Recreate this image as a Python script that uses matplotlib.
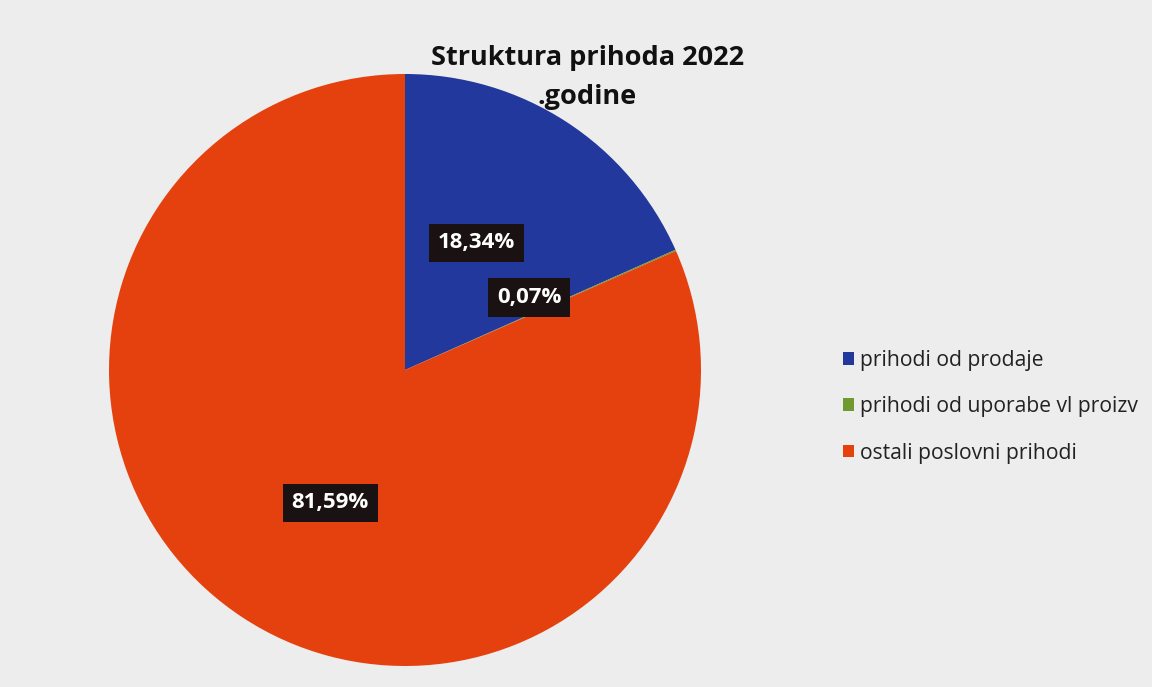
import numpy as np
import matplotlib
matplotlib.use("Agg")
import matplotlib.pyplot as plt
from matplotlib.patches import Patch

plt.rcParams["font.family"] = ["Open Sans", "DejaVu Sans"]

labels = ["prihodi od prodaje", "prihodi od uporabe vl proizv", "ostali poslovni prihodi"]
shares = [18.34, 0.07, 81.59]
pct_text = ["18,34%", "0,07%", "81,59%"]
colors = ["#22389c", "#6e9a2e", "#e5410f"]

W, H = 1152, 687
fig = plt.figure(figsize=(W / 100, H / 100), dpi=100)
fig.patch.set_facecolor("#ededed")
ax = fig.add_axes([0, 0, 1, 1])
ax.set_facecolor("#ededed")

# pie geometry in pixel units (y measured from the bottom)
cx, cy, r = 405, H - 370, 296
wedges, _ = ax.pie(shares, colors=colors, startangle=90, counterclock=False,
                   center=(cx, cy), radius=r, frame=True,
                   wedgeprops=dict(linewidth=0))
ax.set_xlim(0, W)
ax.set_ylim(0, H)
ax.set_aspect("equal")
ax.axis("off")

# labels in black boxes; nudged like the original
offsets = [(-9, 3), (-11, 13), (6, -9)]
for w, txt, (ox, oy) in zip(wedges, pct_text, offsets):
    ang = np.deg2rad((w.theta1 + w.theta2) / 2)
    x = cx + 0.5 * r * np.cos(ang) + ox
    y = cy + 0.5 * r * np.sin(ang) + oy
    ax.text(x, y, txt, color="white", fontsize=16, fontweight="bold",
            ha="center", va="center",
            bbox=dict(boxstyle="square,pad=0.4", fc="#1a1212", ec="none"))

fig.text(0.51, 0.887, "Struktura prihoda 2022\n.godine", ha="center", va="center",
         fontsize=19.5, fontweight="bold", color="#111111", linespacing=1.68)

handles = [Patch(facecolor=c, edgecolor="none") for c in colors]
leg = fig.legend(handles, labels, loc="center left", bbox_to_anchor=(0.715, 0.408),
                 frameon=False, fontsize=15.2, handlelength=0.55, handleheight=0.55,
                 handletextpad=0.25, labelspacing=1.2)
for t in leg.get_texts():
    t.set_color("#222222")

fig.savefig("out.png", dpi=100, facecolor=fig.get_facecolor())
